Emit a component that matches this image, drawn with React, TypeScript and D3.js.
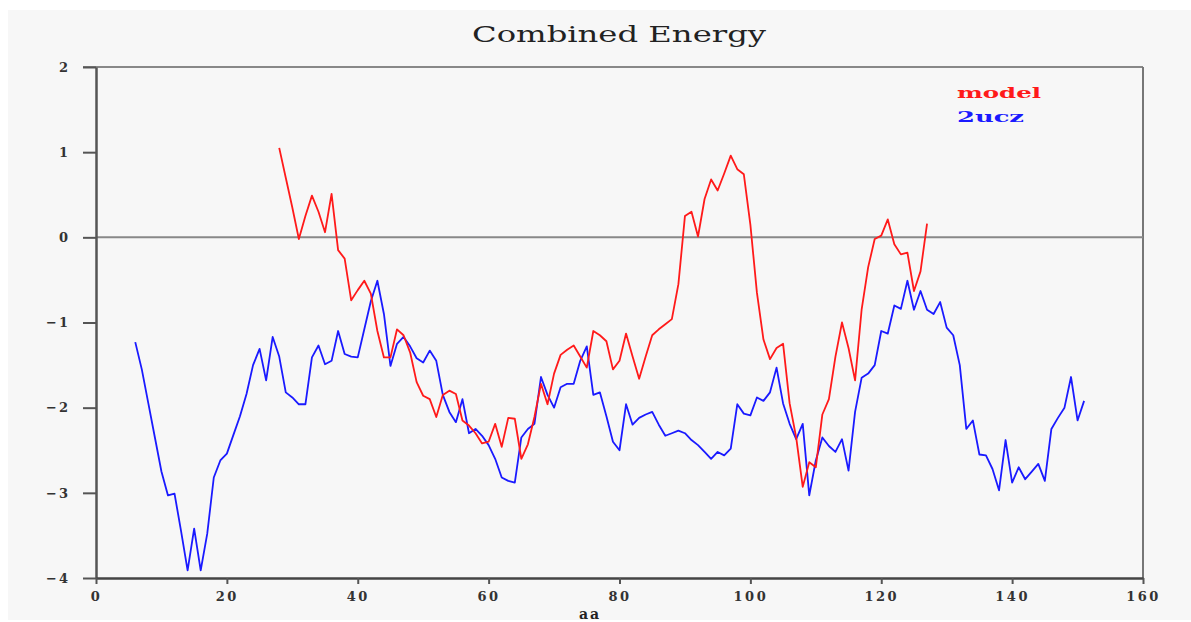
import * as React from "react";
import * as d3 from "d3";

// residue index of the first value in each series
const modelStart = 28;
const uczStart = 6;

const modelValues = [
  1.05, 0.70, 0.35, -0.02, 0.25, 0.49, 0.30, 0.06, 0.51, -0.15,
  -0.25, -0.74, -0.62, -0.51, -0.66, -1.10, -1.41, -1.41, -1.08, -1.15,
  -1.35, -1.70, -1.86, -1.90, -2.11, -1.85, -1.80, -1.84, -2.15, -2.21,
  -2.30, -2.42, -2.40, -2.19, -2.46, -2.12, -2.13, -2.60, -2.43, -2.11,
  -1.72, -1.96, -1.60, -1.38, -1.32, -1.27, -1.40, -1.53, -1.10, -1.15,
  -1.22, -1.55, -1.45, -1.13, -1.40, -1.66, -1.40, -1.15, -1.08, -1.02,
  -0.96, -0.55, 0.25, 0.30, 0.01, 0.45, 0.68, 0.55, 0.75, 0.96,
  0.80, 0.74, 0.15, -0.65, -1.20, -1.43, -1.30, -1.25, -1.95, -2.35,
  -2.93, -2.64, -2.70, -2.08, -1.90, -1.40, -1.00, -1.30, -1.68, -0.85,
  -0.35, -0.02, 0.02, 0.21, -0.08, -0.20, -0.18, -0.63, -0.40, 0.16,
];

const uczValues = [
  -1.23, -1.55, -1.95, -2.35, -2.75, -3.03, -3.01, -3.45, -3.91, -3.42,
  -3.91, -3.48, -2.82, -2.62, -2.54, -2.32, -2.10, -1.84, -1.50, -1.31,
  -1.68, -1.17, -1.40, -1.82, -1.88, -1.96, -1.96, -1.41, -1.27, -1.49,
  -1.45, -1.10, -1.37, -1.40, -1.41, -1.08, -0.75, -0.51, -0.90, -1.51,
  -1.25, -1.17, -1.28, -1.42, -1.47, -1.33, -1.45, -1.85, -2.05, -2.17,
  -1.90, -2.30, -2.25, -2.33, -2.44, -2.60, -2.82, -2.86, -2.88, -2.35,
  -2.25, -2.19, -1.64, -1.85, -2.00, -1.76, -1.72, -1.72, -1.45, -1.28,
  -1.85, -1.82, -2.10, -2.40, -2.50, -1.96, -2.20, -2.12, -2.08, -2.05,
  -2.20, -2.33, -2.30, -2.27, -2.30, -2.38, -2.44, -2.52, -2.60, -2.52,
  -2.56, -2.48, -1.96, -2.07, -2.09, -1.88, -1.92, -1.82, -1.53, -1.95,
  -2.19, -2.37, -2.19, -3.03, -2.62, -2.35, -2.45, -2.52, -2.37, -2.74,
  -2.05, -1.65, -1.60, -1.50, -1.10, -1.13, -0.80, -0.84, -0.51, -0.85,
  -0.63, -0.85, -0.90, -0.76, -1.06, -1.15, -1.50, -2.25, -2.15, -2.55,
  -2.56, -2.72, -2.97, -2.38, -2.88, -2.70, -2.84, -2.75, -2.66, -2.86,
  -2.25, -2.12, -2.00, -1.64, -2.15, -1.92,
];

const xTicks = [0, 20, 40, 60, 80, 100, 120, 140, 160];
const yTicks = [2, 1, 0, -1, -2, -3, -4];
const seriesNames = ["model", "2ucz"];
const seriesColors = ["#ff1a1a", "#1a1aff"];

const W = 1191;
const H = 622;
const left = 96, right = 1143, top = 67, bottom = 578;
const font = "'DejaVu Serif', serif";

function drawChart(svgEl) {
  const svg = d3.select(svgEl);
  svg.selectAll("*").remove();

  const x = d3.scaleLinear().domain([0, 160]).range([left, right]);
  const y = d3.scaleLinear().domain([-4, 2]).range([bottom, top]);

  // grey panel
  svg.append("rect")
    .attr("x", 8).attr("y", 10)
    .attr("width", W - 8).attr("height", 610)
    .attr("fill", "#f7f7f7");

  // title
  svg.append("text")
    .attr("x", 472).attr("y", 42)
    .attr("textLength", 294).attr("lengthAdjust", "spacingAndGlyphs")
    .attr("font-family", font).attr("font-size", 22)
    .attr("fill", "#222")
    .text("Combined Energy");

  // frame: top + right in grey
  svg.append("line")
    .attr("x1", left - 13).attr("x2", right)
    .attr("y1", top).attr("y2", top)
    .attr("stroke", "#888").attr("stroke-width", 2);
  svg.append("line")
    .attr("x1", right).attr("x2", right)
    .attr("y1", top).attr("y2", bottom)
    .attr("stroke", "#777").attr("stroke-width", 2);

  // zero line
  svg.append("line")
    .attr("x1", left).attr("x2", right)
    .attr("y1", y(0)).attr("y2", y(0))
    .attr("stroke", "#888").attr("stroke-width", 2);

  const fmt = (d) => (d < 0 ? "\u2212" + Math.abs(d) : String(d));

  // y axis
  const yAxis = svg.append("g")
    .attr("transform", `translate(${left},0)`)
    .call(d3.axisLeft(y).tickValues(yTicks).tickFormat(fmt)
      .tickSize(13).tickPadding(13).tickSizeOuter(0));
  yAxis.select(".domain").attr("stroke", "#555").attr("stroke-width", 2.5);
  yAxis.selectAll(".tick line").attr("stroke", "#555").attr("stroke-width", 2);
  yAxis.selectAll(".tick text")
    .attr("font-family", font).attr("font-size", 13).attr("font-weight", "bold")
    .attr("letter-spacing", 2).attr("fill", "#333");

  // x axis
  const xAxis = svg.append("g")
    .attr("transform", `translate(0,${bottom})`)
    .call(d3.axisBottom(x).tickValues(xTicks).tickFormat(fmt)
      .tickSize(6).tickPadding(8).tickSizeOuter(0));
  xAxis.select(".domain").attr("stroke", "#444").attr("stroke-width", 2.5);
  xAxis.selectAll(".tick line").attr("stroke", "#555").attr("stroke-width", 2);
  xAxis.selectAll(".tick text")
    .attr("font-family", font).attr("font-size", 13).attr("font-weight", "bold")
    .attr("letter-spacing", 2.5).attr("fill", "#333");

  svg.append("text")
    .attr("x", 590).attr("y", 619)
    .attr("text-anchor", "middle")
    .attr("font-family", font).attr("font-size", 14).attr("font-weight", "bold")
    .attr("letter-spacing", 2)
    .attr("fill", "#222")
    .text("aa");

  const line = d3.line()
    .x((d) => x(d[0]))
    .y((d) => y(d[1]));

  const series = [
    uczValues.map((v, i) => [uczStart + i, v]),
    modelValues.map((v, i) => [modelStart + i, v]),
  ];
  const colors = [seriesColors[1], seriesColors[0]];

  series.forEach((pts, i) => {
    svg.append("path")
      .datum(pts)
      .attr("d", line)
      .attr("fill", "none")
      .attr("stroke", colors[i])
      .attr("stroke-width", 1.8)
      .attr("stroke-linejoin", "round");
  });

  // legend
  const legendY = [98, 122];
  const legendW = [84, 67];
  seriesNames.forEach((name, i) => {
    svg.append("text")
      .attr("x", 957).attr("y", legendY[i])
      .attr("textLength", legendW[i]).attr("lengthAdjust", "spacingAndGlyphs")
      .attr("font-family", font).attr("font-size", 15).attr("font-weight", "bold")
      .attr("fill", seriesColors[i])
      .text(name);
  });
}

const App = () => {
  const svgRef = React.useRef(null);
  React.useEffect(() => {
    drawChart(svgRef.current);
  }, []);

  return (
    <svg
      ref={svgRef}
      width={W}
      height={H}
      style={{ position: "absolute", left: 0, top: 0, background: "#fff" }}
    />
  );
};

export default App;
